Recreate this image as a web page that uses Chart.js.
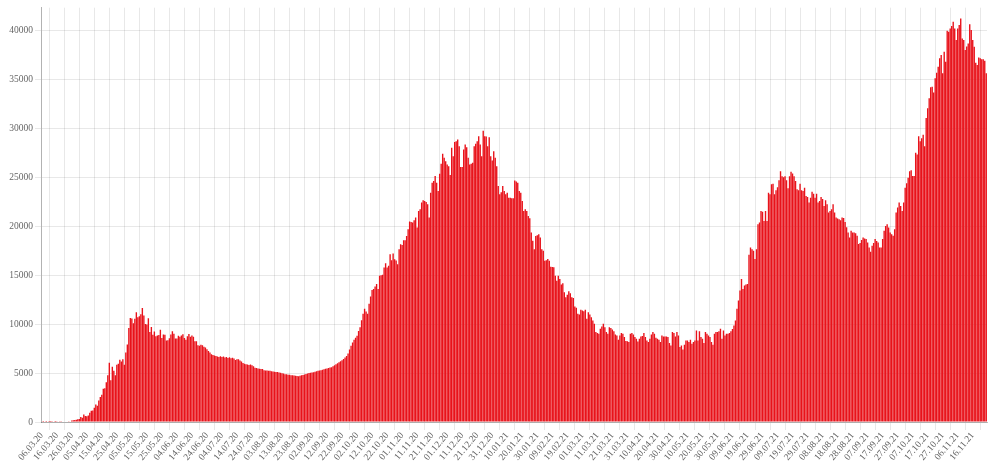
<!DOCTYPE html>
<html lang="en">
<head>
  <meta charset="UTF-8">
  <title>Daily cases</title>
  <script src="https://cdn.jsdelivr.net/npm/chart.js"></script>
  <style>
    html, body {
      margin: 0;
      padding: 0;
      background: #fff;
    }
    #chart {
      display: block;
    }
  </style>
</head>
<body>
<canvas id="chart" width="991" height="461"></canvas>

<script>
// first day of the series, one bar per day
const startDate = new Date(2020, 2, 6);

// labels shown under the x axis (every 10th day)
const tickLabels = [
  "06.03.20", "16.03.20", "26.03.20", "05.04.20", "15.04.20", "25.04.20", "05.05.20", "15.05.20",
  "25.05.20", "04.06.20", "14.06.20", "24.06.20", "04.07.20", "14.07.20", "24.07.20", "03.08.20",
  "13.08.20", "23.08.20", "02.09.20", "12.09.20", "22.09.20", "02.10.20", "12.10.20", "22.10.20",
  "01.11.20", "11.11.20", "21.11.20", "01.12.20", "11.12.20", "21.12.20", "31.12.20", "10.01.21",
  "20.01.21", "30.01.21", "09.02.21", "19.02.21", "01.03.21", "11.03.21", "21.03.21", "31.03.21",
  "10.04.21", "20.04.21", "30.04.21", "10.05.21", "20.05.21", "30.05.21", "09.06.21", "19.06.21",
  "29.06.21", "09.07.21", "19.07.21", "29.07.21", "08.08.21", "18.08.21", "28.08.21", "07.09.21",
  "17.09.21", "27.09.21", "07.10.21", "17.10.21", "27.10.21", "06.11.21", "16.11.21"
];

// y axis labels
const yTicks = [0, 5000, 10000, 15000, 20000, 25000, 30000, 35000, 40000];

// daily values, split by period
const wave1 = [
  0, 4, 0, 3, 0, 3, 7, 14, 0, 4,
  28, 0, 21, 33, 52, 54, 53, 61, 71, 57,
  163, 182, 196, 228, 270, 302, 501, 440, 771, 601,
  582, 658, 954, 1154, 1175, 1459, 1786, 1667, 2186, 2558,
  2774, 3388, 3448, 4070, 4785, 6060, 4268, 5642, 5236, 4774,
  5849, 5966, 6361, 6198, 6411, 5841, 7099, 7933, 9623, 10633,
  10581, 10102, 10559, 11231, 10699, 10817, 11012, 11656, 10899, 10028,
  9974, 10598, 9200, 9709, 8926, 9263, 8764, 8849, 8894, 9434,
  8599, 8946, 8915, 8338, 8371, 8572, 8952, 9268, 9035, 8536,
  8536, 8831, 8726, 8855, 8984, 8595, 8404, 8779, 8987, 8706,
  8835, 8706, 8246, 8248, 7843, 7790
];

const summer2020 = [
  7900, 7850, 7700, 7620, 7450, 7260, 7100, 6920, 6850, 6800,
  6760, 6690, 6640, 6720, 6650, 6700, 6590, 6640, 6540, 6610,
  6520, 6560, 6480, 6330, 6410, 6420, 6300, 6190, 6040, 5950,
  5900, 5870, 5840, 5880, 5800, 5690, 5540, 5510, 5480, 5450,
  5410, 5430, 5300, 5260, 5270, 5240, 5230, 5200, 5170, 5150,
  5110, 5100, 5070, 5040, 4990, 4950, 4890, 4870, 4840, 4830,
  4790, 4780, 4750, 4740, 4710, 4690, 4730, 4770, 4800, 4860,
  4900, 4950, 5000, 5030, 5060, 5090, 5150, 5200, 5240, 5270,
  5300, 5350, 5390, 5440, 5480, 5510, 5560, 5610, 5700, 5800,
  5910, 6010, 6100, 6200, 6310, 6450, 6600, 6760, 7010, 7400,
  7790, 8140, 8400, 8610, 8830, 9300
];

const wave2 = [
  9700, 10400, 11060, 11570, 11300, 11060, 12080, 12830, 13500, 13610,
  13850, 14120, 13600, 14960, 15000, 15060, 15800, 16220, 15800, 15970,
  17160, 16550, 17230, 16650, 16500, 16140, 17670, 18180, 18110, 18590,
  18590, 19030, 19710, 20490, 20450, 20390, 20630, 20900, 19880, 21580,
  21750, 22430, 22670, 22600, 22500, 22260, 20900, 23450, 24470, 24640,
  25150, 24470, 23620, 25380, 26400, 27420, 27010, 26670, 26330, 26160,
  25250, 28030, 27180, 28640, 28700, 28880, 28200, 26060, 26060, 27860,
  28370, 28100, 27010, 26330, 26400, 26500, 28200, 28440, 28710, 29220,
  28370, 27180, 29790, 29220, 29200, 28200, 29120, 27180, 26740, 27690,
  27010, 26160, 24130, 23280, 23500, 24130, 23620, 23280, 23450, 22940,
  22940, 22870, 22870, 24700, 24600, 24470, 23620
];

const spring2021 = [
  23450, 22600, 21580, 21750, 21580, 21070, 20830, 19370, 18520, 17670,
  19030, 19100, 19200, 18860, 17670, 17500, 16490, 16550, 16660, 16490,
  15880, 15850, 15810, 14960, 14450, 14960, 14620, 14050, 14180, 13270,
  12760, 13000, 13370, 13170, 12760, 12690, 11810, 11670, 11060, 10990,
  11470, 11400, 11330, 11470, 10550, 11230, 10990, 10720, 10380, 10040,
  9190, 9100, 9020, 9530, 9770, 10040, 9700, 9190, 9020, 9700,
  9600, 9450, 9290, 8950, 8850, 8410, 8850, 9090, 9020, 8680,
  8280, 8250, 8170, 9020, 9090, 8950, 8680, 8510, 8240, 8510,
  8750, 8800, 9090, 8680, 8340, 8170, 8510, 8950, 9190, 9020,
  8610, 8500, 8410, 8170, 8850, 8750, 8750, 8750, 8680, 8070,
  7830, 9190, 9100, 8750, 9190, 8850, 7660
];

const wave3 = [
  7830, 7400, 7900, 8340, 8340, 8170, 8410, 8000, 8170, 8340,
  9360, 8340, 9290, 8680, 8500, 8070, 9190, 9020, 8850, 8680,
  8170, 7900, 9020, 9190, 9200, 9290, 9530, 8510, 9360, 8850,
  9020, 9020, 9090, 9290, 9500, 9870, 10380, 11570, 12420, 13440,
  14620, 13610, 13950, 14050, 14100, 17100, 17840, 17670, 17500, 16660,
  17670, 20220, 20390, 21580, 21500, 20560, 21580, 20560, 23450, 23280,
  24300, 24370, 23280, 23690, 24000, 24710, 25640, 25130, 25030, 25130,
  24710, 23890, 25130, 25580, 25400, 25130, 24640, 23790, 23690, 24370,
  23690, 23620, 23960, 23110, 23000, 22430, 22940, 23550, 23350, 22940,
  23350, 22430, 22600, 23010, 22800, 22090, 22670, 22260, 21410, 21580,
  21750, 22260, 21410, 20900, 20800, 20730, 20630
];

const wave4 = [
  20900, 20850, 20460, 19900, 19380, 18870, 19550, 19380, 19380, 19300,
  19040, 18190, 18290, 18600, 18870, 18770, 18700, 18360, 17850, 17410,
  18020, 18290, 18700, 18500, 18360, 17850, 17850, 18700, 19550, 20050,
  20220, 19890, 19380, 19200, 19040, 19720, 21410, 21920, 22430, 22090,
  21580, 22430, 23950, 24400, 24970, 25650, 25750, 25140, 25140, 27520,
  27350, 29210, 28700, 29000, 29380, 28190, 31070, 32090, 33100, 34220,
  34290, 33680, 35140, 35700, 36330, 37180, 37520, 35650, 37860, 36840,
  40000, 39900, 40240, 40500, 40920, 40240, 39050, 40240, 40580, 41260,
  39220, 39050, 38030, 38400, 38700, 40680, 40070, 39050, 38370, 36740,
  36500, 37280, 37180, 37100, 37080, 36940, 35650
];

const values = [...wave1, ...summer2020, ...wave2, ...spring2021, ...wave3, ...wave4];

// one category per day
const days = values.map((v, i) => {
  const d = new Date(startDate);
  d.setDate(d.getDate() + i);
  const dd = String(d.getDate()).padStart(2, "0");
  const mm = String(d.getMonth() + 1).padStart(2, "0");
  const yy = String(d.getFullYear()).slice(2);
  return dd + "." + mm + "." + yy;
});

const tickFont = { family: "'Liberation Serif', 'Times New Roman', serif", size: 9.5 };

const ctx = document.getElementById("chart").getContext("2d");
new Chart(ctx, {
  type: 'bar',
  data: {
    labels: days,
    datasets: [{
      data: values,
      backgroundColor: '#e8121a',
      borderWidth: 0,
      barPercentage: 0.92,
      categoryPercentage: 1
    }]
  },
  options: {
    responsive: false,
    animation: false,
    devicePixelRatio: 1,
    layout: { padding: { top: 6, right: 4, left: 0, bottom: 0 } },
    plugins: {
      legend: { display: false },
      tooltip: { enabled: false }
    },
    scales: {
      x: {
        grid: { color: 'rgba(0,0,0,0.09)', tickLength: 8 },
        border: { color: 'rgba(0,0,0,0.25)' },
        ticks: {
          autoSkip: false,
          minRotation: 50,
          maxRotation: 50,
          padding: 0,
          color: '#666',
          font: tickFont,
          callback: (v, i) => (i % 10 === 0 && tickLabels[i / 10]) ? tickLabels[i / 10] : null
        },
        afterFit: scale => { scale.height = 39; }
      },
      y: {
        min: 0,
        max: 42360,
        grid: { color: 'rgba(0,0,0,0.09)', tickLength: 6 },
        border: { color: 'rgba(0,0,0,0.3)' },
        ticks: {
          padding: 2,
          color: '#666',
          font: tickFont,
          callback: v => String(v)
        },
        afterBuildTicks: scale => { scale.ticks = yTicks.map(v => ({ value: v })); },
        afterFit: scale => { scale.width = 41; }
      }
    }
  }
});
</script>
</body>
</html>
